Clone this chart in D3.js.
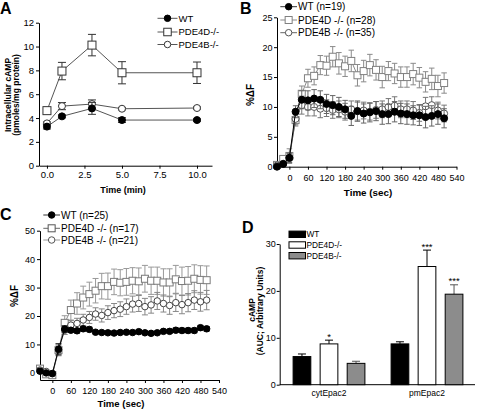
<!DOCTYPE html>
<html><head><meta charset="utf-8">
<script src="https://cdn.jsdelivr.net/npm/d3@7"></script>
<style>body{margin:0;background:#fff}svg{display:block}</style>
</head><body><script>
// ---------- Panel A data ----------
const timeMin = [0, 1, 3, 5, 10];
const aWT = [3.28, 4.14, 4.81, 3.83, 3.83];
const aWTerr = [0.2, 0.12, 0.5, 0.2, 0.1];
const aD = [4.62, 7.94, 10.12, 7.8, 7.8];
const aDerr = [0.15, 0.73, 0.9, 0.93, 0.9];
const aB = [3.55, 5.0, 5.17, 4.78, 4.84];
const aBerr = [0.12, 0.3, 0.35, 0.1, 0.1];
const aXTicks = [0, 2.5, 5, 7.5, 10];
const aYTicks = [0, 2, 4, 6, 8, 10, 12];

// ---------- Panels B / C time axis ----------
const timeSec = [-40, -20, 0, 20, 40, 60, 80, 100, 120, 140, 160, 180, 200, 220, 240, 260, 280, 300, 320, 340, 360, 380, 400, 420, 440, 460, 480, 500];
const secTicks = [0, 60, 120, 180, 240, 300, 360, 420, 480, 540];

// ---------- Panel B data ----------
const bWT = [0.0, 0.45, 1.5, 9.2, 11.2, 11.1, 11.4, 11.2, 10.5, 10.3, 10.0, 9.6, 8.5, 9.3, 8.9, 9.1, 9.3, 8.8, 8.8, 9.2, 8.9, 8.8, 8.6, 8.6, 8.3, 8.5, 8.8, 8.1];
const bWTerr = [0.2, 0.3, 0.8, 1.0, 1.5, 1.6, 1.5, 1.5, 1.6, 1.6, 1.6, 1.5, 1.6, 1.7, 1.6, 1.6, 1.6, 1.7, 1.6, 1.7, 1.7, 1.7, 1.6, 1.7, 1.8, 1.7, 1.7, 1.6];
const bD = [0.3, 1.3, 1.8, 7.8, 12.2, 14.8, 15.2, 17.0, 16.9, 18.4, 17.3, 16.8, 17.7, 15.3, 16.0, 17.0, 16.2, 15.0, 16.0, 15.6, 15.0, 15.0, 15.5, 14.9, 14.2, 14.7, 13.5, 14.0];
const bDerr = [0.3, 0.5, 1.2, 1.0, 1.3, 1.5, 1.5, 1.6, 1.6, 1.7, 1.8, 1.7, 1.8, 1.8, 1.8, 1.8, 1.7, 1.8, 1.6, 1.7, 1.7, 1.7, 1.8, 1.7, 1.7, 1.8, 1.8, 1.7];
const bB = [0.2, 0.5, 1.4, 8.0, 10.3, 10.0, 10.0, 9.7, 9.8, 9.5, 9.6, 9.2, 9.6, 9.3, 9.4, 9.2, 9.5, 9.6, 10.0, 10.2, 9.6, 9.6, 9.4, 9.0, 10.1, 10.3, 9.4, 8.9];
const bBerr = [0.2, 0.3, 0.8, 1.0, 1.5, 1.5, 1.5, 1.5, 1.4, 1.4, 1.4, 1.4, 1.4, 1.5, 1.4, 1.4, 1.4, 1.4, 1.4, 1.5, 1.4, 1.4, 1.5, 1.4, 1.5, 1.4, 1.4, 1.4];
const bYTicks = [0, 5, 10, 15, 20, 25];

// ---------- Panel C data ----------
const cWT = [0.6, 0.0, -0.2, 8.3, 15.4, 15.0, 14.8, 15.5, 15.3, 14.3, 14.2, 14.1, 14.0, 14.2, 14.3, 14.2, 14.5, 14.1, 13.9, 14.1, 14.6, 14.6, 15.0, 14.9, 14.9, 14.9, 15.9, 15.5];
const cWTerr = [0.8, 0.5, 0.5, 2.0, 1.2, 0.8, 0.8, 0.8, 0.8, 0.6, 0.6, 0.6, 0.6, 0.6, 0.6, 0.6, 0.7, 0.6, 0.6, 0.6, 0.7, 0.7, 0.8, 0.8, 0.8, 0.8, 0.8, 0.8];
const cD = [1.5, -0.5, -0.8, 8.0, 17.6, 22.1, 24.4, 26.5, 27.7, 28.9, 30.5, 30.5, 32.0, 31.7, 32.0, 32.4, 32.2, 33.1, 32.4, 32.4, 31.8, 31.8, 32.9, 32.3, 32.4, 33.1, 32.7, 32.6];
const cDerr = [1.0, 0.8, 0.8, 2.0, 2.5, 3.5, 3.8, 4.0, 4.2, 4.3, 4.5, 4.6, 4.5, 4.6, 4.7, 4.6, 4.7, 4.7, 4.8, 4.8, 4.8, 4.8, 4.9, 4.9, 5.0, 4.9, 5.0, 5.0];
const cB = [1.0, 0.5, -0.3, 8.0, 15.0, 16.8, 17.4, 18.6, 19.5, 20.7, 20.2, 21.2, 21.9, 22.4, 23.3, 24.2, 24.4, 23.3, 23.9, 25.3, 24.4, 23.7, 24.7, 24.0, 24.7, 25.6, 25.0, 25.6];
const cBerr = [0.6, 0.5, 0.5, 1.5, 1.5, 1.6, 1.8, 2.0, 2.1, 2.2, 2.3, 2.4, 2.5, 2.6, 2.7, 2.8, 2.8, 2.9, 2.9, 3.0, 3.0, 3.1, 3.1, 3.2, 3.2, 3.3, 3.3, 3.4];
const cYTicks = [0, 10, 20, 30, 40, 50];

// ---------- Panel D data ----------
const dGroups = ['cytEpac2', 'pmEpac2'];
const dSeries = ['WT', 'PDE4D-/-', 'PDE4B-/-'];
const dWT = [6.0, 8.7];
const dWTerr = [0.55, 0.45];
const dD = [8.7, 25.2];
const dDerr = [0.8, 3.5];
const dB = [4.55, 19.3];
const dBerr = [0.45, 2.0];
const dSig = [['', '*', ''], ['', '***', '***']];
const dYTicks = [0, 10, 20, 30];

// ---------- drawing ----------
const FONT = "'Liberation Sans', Arial, Helvetica, sans-serif";
const svg = d3.select('body').append('svg').attr('width', 477).attr('height', 411)
  .attr('font-family', FONT);

function styleAxis(g, fs) {
  g.attr('font-family', FONT).attr('font-size', fs);
  g.selectAll('path.domain').attr('stroke', '#000').attr('stroke-width', 1);
  g.selectAll('.tick line').attr('stroke', '#000');
  g.selectAll('.tick text').attr('fill', '#000');
}

function drawMarker(g, type, cx, cy, s, stroke, fill) {
  if (type === 'square') {
    g.append('rect').attr('x', cx - s / 2).attr('y', cy - s / 2).attr('width', s).attr('height', s)
      .attr('fill', fill).attr('stroke', stroke).attr('stroke-width', 1);
  } else {
    g.append('circle').attr('cx', cx).attr('cy', cy).attr('r', s / 2)
      .attr('fill', fill).attr('stroke', stroke).attr('stroke-width', 1);
  }
}

function linePanel(p) {
  const g = svg.append('g');
  const x = d3.scaleLinear().domain(p.xDomain).range(p.xRange);
  const y = d3.scaleLinear().domain(p.yDomain).range(p.yRange);
  const ax = g.append('g').attr('transform', `translate(0,${p.yRange[0]})`)
    .call(d3.axisBottom(x).tickValues(p.xTicks).tickFormat(p.xFmt).tickSize(3).tickPadding(p.xPad).tickSizeOuter(0));
  styleAxis(ax, p.tickFs);
  const ay = g.append('g').attr('transform', `translate(${p.xRange[0]},0)`)
    .call(d3.axisLeft(y).tickValues(p.yTicks).tickFormat(p.yFmt).tickSize(3).tickPadding(p.yPad).tickSizeOuter(0));
  styleAxis(ay, p.tickFs);

  p.series.forEach(s => {
    const sg = g.append('g');
    s.vals.forEach((v, i) => {
      const cx = x(p.times[i]);
      const e = s.errs[i];
      const y1 = y(v + e), y2 = y(v - e);
      sg.append('line').attr('x1', cx).attr('x2', cx).attr('y1', y1).attr('y2', y2).attr('stroke', s.errColor).attr('stroke-width', 1);
      sg.append('line').attr('x1', cx - p.cap / 2).attr('x2', cx + p.cap / 2).attr('y1', y1).attr('y2', y1).attr('stroke', s.errColor).attr('stroke-width', 1);
      sg.append('line').attr('x1', cx - p.cap / 2).attr('x2', cx + p.cap / 2).attr('y1', y2).attr('y2', y2).attr('stroke', s.errColor).attr('stroke-width', 1);
    });
    const line = d3.line().x((d, i) => x(p.times[i])).y(d => y(d));
    sg.append('path').attr('d', line(s.vals)).attr('fill', 'none').attr('stroke', s.lineColor).attr('stroke-width', 1);
    s.vals.forEach((v, i) => drawMarker(sg, s.type, x(p.times[i]), y(v), s.size, s.stroke, s.fill));
  });

  const L = p.legend;
  L.items.forEach((it, i) => {
    const cy = L.ys[i];
    g.append('line').attr('x1', L.x0).attr('x2', L.x1).attr('y1', cy).attr('y2', cy).attr('stroke', it.lineColor);
    drawMarker(g, it.type, (L.x0 + L.x1) / 2, cy, it.size, it.stroke, it.fill);
    g.append('text').attr('x', L.x1 + 1).attr('y', cy + L.fs * 0.36).attr('font-size', L.fs).attr('fill', '#000').text(it.label);
  });

  g.append('text').attr('x', p.xTitle[0]).attr('y', p.xTitle[1]).attr('text-anchor', 'middle')
    .attr('font-size', p.titleFs).attr('font-weight', 'bold').text(p.xTitleText);
  p.yTitle.forEach(t => {
    g.append('text').attr('transform', `translate(${t.x},${t.y}) rotate(-90)`).attr('text-anchor', 'middle')
      .attr('font-size', t.fs).attr('font-weight', 'bold').text(t.text);
  });
  g.append('text').attr('x', p.letter[0]).attr('y', p.letter[1]).attr('font-size', 16).attr('font-weight', 'bold').text(p.letterText);
}

// Panel A
linePanel({
  xDomain: [-0.53, 11], xRange: [39, 212], yDomain: [0, 12], yRange: [165.7, 22.7],
  xTicks: aXTicks, yTicks: aYTicks, xFmt: d3.format('.1f'), yFmt: d3.format('d'),
  xPad: 3, yPad: 2, tickFs: 9.5, cap: 8, times: timeMin,
  series: [
    { vals: aD, errs: aDerr, type: 'square', size: 8, stroke: '#333', fill: '#fff', lineColor: '#555', errColor: '#333' },
    { vals: aB, errs: aBerr, type: 'circle', size: 7, stroke: '#333', fill: '#fff', lineColor: '#555', errColor: '#333' },
    { vals: aWT, errs: aWTerr, type: 'circle', size: 7, stroke: '#000', fill: '#000', lineColor: '#555', errColor: '#333' }
  ],
  legend: { x0: 157.5, x1: 177.5, ys: [18.3, 32, 44.5], fs: 9.5, items: [
    { label: 'WT', type: 'circle', size: 6.5, stroke: '#000', fill: '#000', lineColor: '#555' },
    { label: 'PDE4D-/-', type: 'square', size: 7.5, stroke: '#333', fill: '#fff', lineColor: '#555' },
    { label: 'PDE4B-/-', type: 'circle', size: 6.5, stroke: '#333', fill: '#fff', lineColor: '#555' }
  ] },
  xTitle: [123, 192.5], xTitleText: 'Time (min)', titleFs: 9,
  yTitle: [{ x: 10.5, y: 95, fs: 8.5, text: 'Intracellular cAMP' }, { x: 18.5, y: 95, fs: 8.5, text: '(pmoles/mg protein)' }],
  letter: [0, 13.5], letterText: 'A'
});

// Panel B
linePanel({
  xDomain: [-40, 540], xRange: [277, 456.5], yDomain: [0, 25], yRange: [166.7, 17.3],
  xTicks: secTicks, yTicks: bYTicks, xFmt: d3.format('d'), yFmt: d3.format('d'),
  xPad: 5, yPad: 1.5, tickFs: 9, cap: 5.5, times: timeSec,
  series: [
    { vals: bD, errs: bDerr, type: 'square', size: 7, stroke: '#808080', fill: '#fff', lineColor: '#8a8a8a', errColor: '#8a8a8a' },
    { vals: bB, errs: bBerr, type: 'circle', size: 7, stroke: '#555', fill: '#fff', lineColor: '#666', errColor: '#777' },
    { vals: bWT, errs: bWTerr, type: 'circle', size: 7, stroke: '#000', fill: '#000', lineColor: '#000', errColor: '#666' }
  ],
  legend: { x0: 280.3, x1: 297, ys: [6.7, 20, 32.7], fs: 10, items: [
    { label: 'WT (n=19)', type: 'circle', size: 6.5, stroke: '#000', fill: '#000', lineColor: '#333' },
    { label: 'PDE4D -/- (n=28)', type: 'square', size: 7, stroke: '#808080', fill: '#fff', lineColor: '#8a8a8a' },
    { label: 'PDE4B -/- (n=35)', type: 'circle', size: 6.5, stroke: '#555', fill: '#fff', lineColor: '#666' }
  ] },
  xTitle: [368, 195.5], xTitleText: 'Time (sec)', titleFs: 9.8,
  yTitle: [{ x: 254, y: 95, fs: 10, text: '%ΔF' }],
  letter: [240, 13.5], letterText: 'B'
});

// Panel C
linePanel({
  xDomain: [-40, 540], xRange: [40, 219], yDomain: [-2.5, 50], yRange: [380, 230.7],
  xTicks: secTicks, yTicks: cYTicks, xFmt: d3.format('d'), yFmt: d3.format('d'),
  xPad: 4.5, yPad: 2, tickFs: 9, cap: 6, times: timeSec,
  series: [
    { vals: cD, errs: cDerr, type: 'square', size: 7, stroke: '#7a7a7a', fill: '#fff', lineColor: '#8a8a8a', errColor: '#999' },
    { vals: cB, errs: cBerr, type: 'circle', size: 6.5, stroke: '#444', fill: '#fff', lineColor: '#777', errColor: '#888' },
    { vals: cWT, errs: cWTerr, type: 'circle', size: 6.5, stroke: '#000', fill: '#000', lineColor: '#000', errColor: '#333' }
  ],
  legend: { x0: 43.3, x1: 60, ys: [215, 228.3, 240], fs: 10, items: [
    { label: 'WT (n=25)', type: 'circle', size: 6.5, stroke: '#000', fill: '#000', lineColor: '#333' },
    { label: 'PDE4D -/- (n=17)', type: 'square', size: 7, stroke: '#555', fill: '#fff', lineColor: '#666' },
    { label: 'PDE4B -/- (n=21)', type: 'circle', size: 6.5, stroke: '#555', fill: '#fff', lineColor: '#999' }
  ] },
  xTitle: [121, 407], xTitleText: 'Time (sec)', titleFs: 9.5,
  yTitle: [{ x: 18, y: 296, fs: 10, text: '%ΔF' }],
  letter: [0, 220], letterText: 'C'
});

// Panel D
(function () {
  const g = svg.append('g');
  const y = d3.scaleLinear().domain([0, 30]).range([384.7, 244]);
  const x0 = d3.scaleBand().domain(dGroups).range([280, 476]).padding(0);
  const x1 = d3.scaleBand().domain(dSeries).range([-40.5, 40.5]).paddingInner(0.345).paddingOuter(0.17);
  const vals = [dWT, dD, dB];
  const errs = [dWTerr, dDerr, dBerr];
  const fills = ['#000', '#fff', '#8c8c8c'];
  const errC = ['#000', '#000', '#555'];

  const ay = g.append('g').attr('transform', 'translate(279.7,0)')
    .call(d3.axisLeft(y).tickValues(dYTicks).tickFormat(d3.format('d')).tickSize(3).tickPadding(1).tickSizeOuter(0));
  styleAxis(ay, 9);
  g.append('line').attr('x1', 279.7).attr('x2', 475).attr('y1', 384.7).attr('y2', 384.7).attr('stroke', '#000');

  dGroups.forEach((grp, gi) => {
    const c = x0(grp) + x0.bandwidth() / 2;
    dSeries.forEach((s, si) => {
      const v = vals[si][gi], e = errs[si][gi];
      const bx = c + x1(s), bw = x1.bandwidth();
      const cx = bx + bw / 2;
      g.append('line').attr('x1', cx).attr('x2', cx).attr('y1', y(v)).attr('y2', y(v + e)).attr('stroke', errC[si]);
      g.append('line').attr('x1', cx - 4).attr('x2', cx + 4).attr('y1', y(v + e)).attr('y2', y(v + e)).attr('stroke', errC[si]);
      g.append('rect').attr('x', bx).attr('y', y(v)).attr('width', bw).attr('height', y(0) - y(v))
        .attr('fill', fills[si]).attr('stroke', '#000').attr('stroke-width', 1);
      const sig = dSig[gi][si];
      if (sig) {
        g.append('text').attr('x', cx).attr('y', y(v + e) - 0.5).attr('text-anchor', 'middle')
          .attr('font-size', 9.5).text(sig);
      }
    });
    g.append('text').attr('x', c).attr('y', 396).attr('text-anchor', 'middle').attr('font-size', 8.5).text(grp);
  });

  const ly = [234.3, 245, 255.7];
  dSeries.forEach((s, si) => {
    g.append('rect').attr('x', 289).attr('y', ly[si] - 3.2).attr('width', 16.5).attr('height', 6.4)
      .attr('fill', fills[si]).attr('stroke', '#000').attr('stroke-width', 1);
    g.append('text').attr('x', 306.5).attr('y', ly[si] + 3).attr('font-size', 8.3).text(s);
  });

  g.append('text').attr('transform', 'translate(255,310) rotate(-90)').attr('text-anchor', 'middle')
    .attr('font-size', 8.5).attr('font-weight', 'bold').text('cAMP');
  g.append('text').attr('transform', 'translate(263,311) rotate(-90)').attr('text-anchor', 'middle')
    .attr('font-size', 8.5).attr('font-weight', 'bold').text('(AUC; Arbitrary Units)');
  g.append('text').attr('x', 242).attr('y', 233).attr('font-size', 16).attr('font-weight', 'bold').text('D');
})();
</script></body></html>
